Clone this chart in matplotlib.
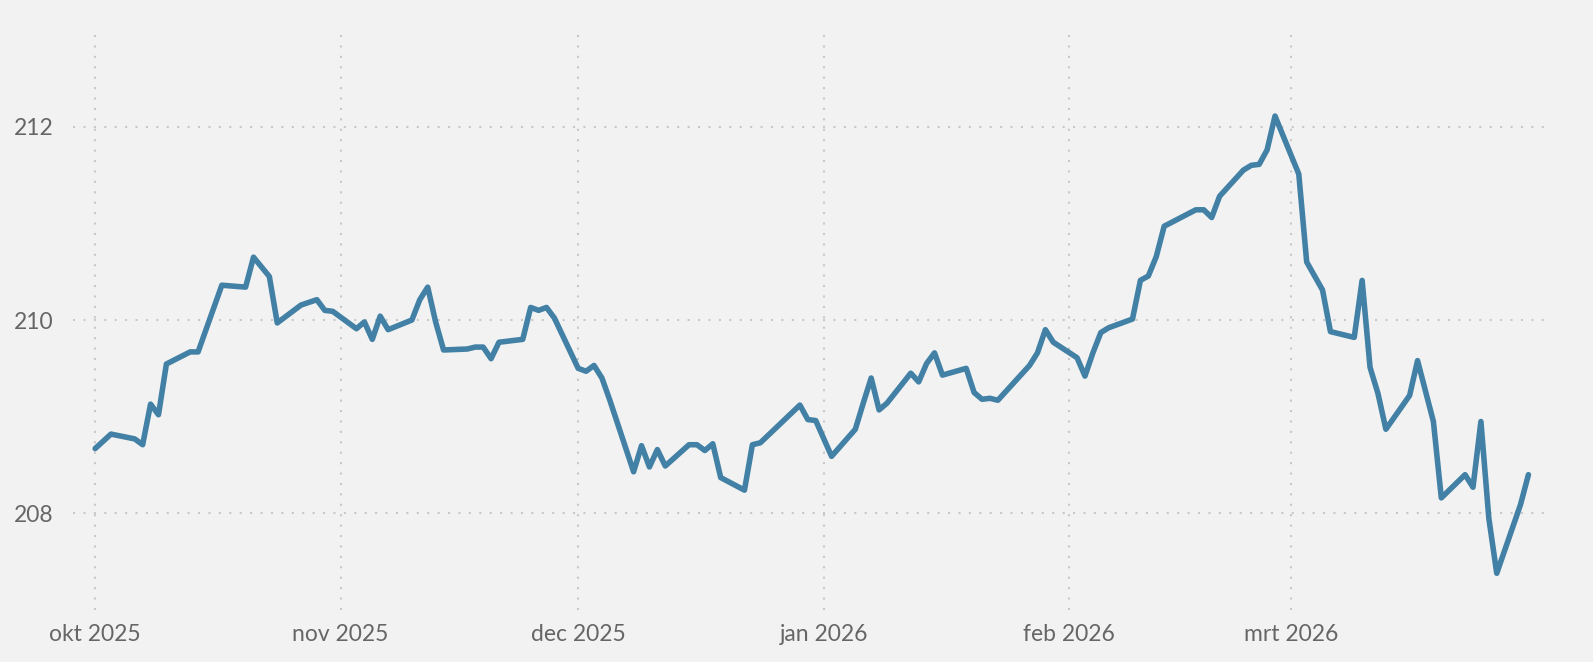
import matplotlib
matplotlib.use("Agg")
import matplotlib.pyplot as plt
import matplotlib.dates as mdates
import pandas as pd
import numpy as np

dates = [
    "2025-10-01", "2025-10-03", "2025-10-06", "2025-10-07", "2025-10-08", "2025-10-09", "2025-10-10",
    "2025-10-13", "2025-10-14", "2025-10-17", "2025-10-20", "2025-10-21", "2025-10-23", "2025-10-24",
    "2025-10-27", "2025-10-29", "2025-10-30", "2025-10-31",
    "2025-11-03", "2025-11-04", "2025-11-05", "2025-11-06", "2025-11-07",
    "2025-11-10", "2025-11-11", "2025-11-12", "2025-11-13", "2025-11-14",
    "2025-11-17", "2025-11-18", "2025-11-19", "2025-11-20", "2025-11-21",
    "2025-11-24", "2025-11-25", "2025-11-26", "2025-11-27", "2025-11-28",
    "2025-12-01", "2025-12-02", "2025-12-03", "2025-12-04", "2025-12-05",
    "2025-12-08", "2025-12-09", "2025-12-10", "2025-12-11", "2025-12-12",
    "2025-12-15", "2025-12-16", "2025-12-17", "2025-12-18", "2025-12-19",
    "2025-12-22", "2025-12-23", "2025-12-24", "2025-12-29", "2025-12-30", "2025-12-31",
    "2026-01-02", "2026-01-05", "2026-01-06", "2026-01-07", "2026-01-08", "2026-01-09",
    "2026-01-12", "2026-01-13", "2026-01-14", "2026-01-15", "2026-01-16",
    "2026-01-19", "2026-01-20", "2026-01-21", "2026-01-22", "2026-01-23",
    "2026-01-27", "2026-01-28", "2026-01-29", "2026-01-30",
    "2026-02-02", "2026-02-03", "2026-02-04", "2026-02-05", "2026-02-06",
    "2026-02-09", "2026-02-10", "2026-02-11", "2026-02-12", "2026-02-13",
    "2026-02-17", "2026-02-18", "2026-02-19", "2026-02-20",
    "2026-02-23", "2026-02-24", "2026-02-25", "2026-02-26", "2026-02-27",
    "2026-03-02", "2026-03-03", "2026-03-05", "2026-03-06",
    "2026-03-09", "2026-03-10", "2026-03-11", "2026-03-12", "2026-03-13",
    "2026-03-16", "2026-03-17", "2026-03-19", "2026-03-20",
    "2026-03-23", "2026-03-24", "2026-03-25", "2026-03-26", "2026-03-27",
    "2026-03-30", "2026-03-31",
]

values = [
    208.67, 208.82, 208.77, 208.71, 209.13, 209.02, 209.545,
    209.67, 209.67, 210.36, 210.34, 210.65, 210.45, 209.97,
    210.155, 210.21, 210.10, 210.09,
    209.91, 209.98, 209.80, 210.04, 209.90,
    210.00, 210.21, 210.34, 209.98, 209.69,
    209.70, 209.72, 209.72, 209.60, 209.77,
    209.80, 210.13, 210.10, 210.13, 210.02,
    209.50, 209.47, 209.53, 209.40, 209.17,
    208.43, 208.70, 208.48, 208.66, 208.49,
    208.71, 208.71, 208.65, 208.72, 208.37,
    208.24, 208.71, 208.73, 209.12, 208.97, 208.96,
    208.59, 208.87, 209.14, 209.40, 209.07, 209.14,
    209.45, 209.36, 209.55, 209.66, 209.43,
    209.50, 209.25, 209.18, 209.19, 209.17,
    209.53, 209.66, 209.90, 209.77,
    209.61, 209.42, 209.66, 209.87, 209.92,
    210.01, 210.41, 210.455, 210.655, 210.97,
    211.14, 211.14, 211.06, 211.28,
    211.55, 211.60, 211.61, 211.76, 212.11,
    211.51, 210.60, 210.31, 209.88,
    209.82, 210.41, 209.51, 209.24, 208.87,
    209.22, 209.58, 208.95, 208.16,
    208.40, 208.27, 208.95, 207.95, 207.38,
    208.09, 208.40,
]

month_ticks = ["2025-10-01", "2025-11-01", "2025-12-01", "2026-01-01", "2026-02-01", "2026-03-01"]
month_labels = ["okt 2025", "nov 2025", "dec 2025", "jan 2026", "feb 2026", "mrt 2026"]
y_ticks = [208, 210, 212]

x = pd.to_datetime(dates)
bg = "#f2f2f2"

fig = plt.figure(figsize=(15.93, 6.62), dpi=100, facecolor=bg)
ax = fig.add_axes([0.0458, 0.0785, 0.9241, 0.8762])
ax.set_facecolor(bg)

ax.plot(x, values, color="#4281a5", linewidth=4, solid_joinstyle="round",
        solid_capstyle="round", zorder=3)

start = mdates.date2num(pd.Timestamp("2025-10-01"))
ax.set_xlim(start - 2.8, start + 183.1)
ax.set_ylim(207, 213)

ax.set_xticks(pd.to_datetime(month_ticks))
ax.set_xticklabels(month_labels)
ax.set_yticks(y_ticks)
ax.set_yticklabels([str(v) for v in y_ticks])

for s in ax.spines.values():
    s.set_visible(False)

ax.grid(True, color="#c8c8c8", linestyle=(0, (1, 4)), linewidth=1.5)
ax.set_axisbelow(True)

ax.tick_params(axis="both", length=0, colors="#666666")
ax.tick_params(axis="x", pad=10)
ax.tick_params(axis="y", pad=14)
for lab in ax.get_xticklabels() + ax.get_yticklabels():
    lab.set_fontfamily(["Lato", "DejaVu Sans"])
    lab.set_fontsize(16.5)

fig.savefig("out.png", dpi=100, facecolor=bg)
